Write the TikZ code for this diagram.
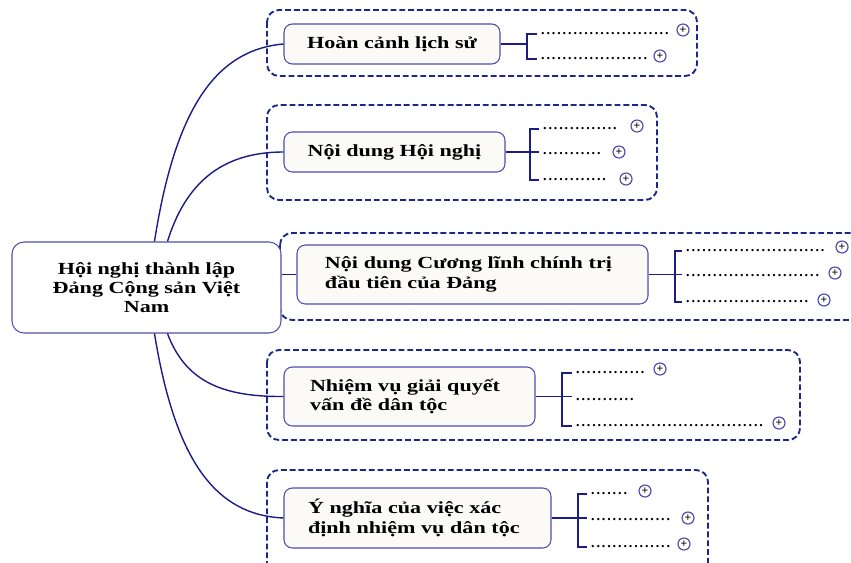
\documentclass[tikz,border=0pt]{standalone}
\usepackage{fontspec}
\setmainfont{Liberation Serif}
\newfontfamily\wideserif[FakeStretch=1.3]{Liberation Serif}
\usetikzlibrary{positioning}
\definecolor{navy}{RGB}{28,28,135}
\definecolor{boxblue}{RGB}{78,78,178}
\definecolor{dashblue}{RGB}{30,38,140}
\definecolor{paper}{RGB}{251,250,247}
\newcommand{\dotrow}[1]{\hbox to #1{\leaders\hbox to 4.6pt{\hss.\hss}\hfill}}

\begin{document}
\begin{tikzpicture}[x=0.03cm,y=-0.03cm]
	\tikzstyle{every node}=[font=\wideserif\bfseries\fontsize{14.5}{16.5}\selectfont]
	\tikzstyle{topic}=[draw=boxblue, line width=0.9pt, fill=paper, rounded corners=0.25cm]
	\tikzstyle{group}=[draw=dashblue, line width=1.6pt, dash pattern=on 5pt off 2.5pt, rounded corners=0.36cm]
	\tikzstyle{branch}=[draw=navy, line width=1.2pt]
	\tikzstyle{twig}=[draw=navy, line width=0.9pt]
	\tikzstyle{dots}=[anchor=west, inner sep=0pt, font=\rmfamily\bfseries\fontsize{12}{12}\selectfont]
	\tikzstyle{plusmark}=[circle, draw=boxblue, line width=1pt, fill=white, inner sep=0pt, minimum size=0.36cm, font=\rmfamily\bfseries\fontsize{10}{10}\selectfont]
	\useasboundingbox (0,0) rectangle (851,562);
	\clip (0,0) rectangle (851,562);
	% dashed groups
	\draw[group] (267,10) rectangle (697,76);
	\draw[group] (267,105) rectangle (657,200);
	\draw[group] (280,233) rectangle (870,320);
	\draw[group] (267,350) rectangle (800,440);
	\draw[group] (267,470) rectangle (708,580);
	% central topic
	\node[draw=boxblue, line width=0.9pt, fill=white, rounded corners=0.36cm, minimum width=8.07cm, minimum height=2.73cm, align=center] (hub) at (146.5,287.5) {Hội nghị thành lập\\Đảng Cộng sản Việt\\Nam};
	% main topics
	\node[topic, minimum width=6.48cm, minimum height=1.2cm] (b1) at (392,44) {Hoàn cảnh lịch sử};
	\node[topic, minimum width=6.63cm, minimum height=1.2cm] (b2) at (394.5,152) {Nội dung Hội nghị};
	\node[topic, minimum height=1.77cm, inner xsep=0.84cm, text width=8.85cm, align=left] (b3) at (472.5,274.5) {Nội dung Cương lĩnh chính trị\\đầu tiên của Đảng};
	\node[topic, minimum height=1.77cm, inner xsep=0.78cm, text width=5.97cm, align=left] (b4) at (409.5,396.5) {Nhiệm vụ giải quyết\\vấn đề dân tộc};
	\node[topic, minimum height=1.8cm, inner xsep=0.72cm, text width=6.57cm, align=left] (b5) at (417.5,518) {Ý nghĩa của việc xác\\định nhiệm vụ dân tộc};
	% branches
	\draw[branch] ([xshift=4.29cm]hub.north west) .. controls (175,110) and (215,50) .. (b1.west);
	\draw[branch] ([xshift=4.68cm]hub.north west) .. controls (185,185) and (220,152) .. (b2.west);
	\draw[branch] (hub.east |- b3.west) -- (b3.west);
	\draw[branch] ([xshift=4.68cm]hub.south west) .. controls (185,380) and (220,397) .. (b4.west);
	\draw[branch] ([xshift=4.29cm]hub.south west) .. controls (175,460) and (215,515) .. (b5.west);
	% sub items
	\coordinate (k1) at (527,0);
	\node[dots] (i11) at (540,34) {\dotrow{3.9cm}};
	\node[dots] (i12) at (540,59) {\dotrow{3.24cm}};
	\node[plusmark] (p11) at (683,30) {+};
	\node[plusmark] (p12) at (660,56) {+};
	\coordinate (k2) at (530,0);
	\node[dots] (i21) at (542,129) {\dotrow{2.4cm}};
	\node[dots] (i22) at (542,154) {\dotrow{1.89cm}};
	\node[dots] (i23) at (542,180) {\dotrow{2.1cm}};
	\node[plusmark] (p21) at (637,126) {+};
	\node[plusmark] (p22) at (619,152) {+};
	\node[plusmark] (p23) at (626,179) {+};
	\coordinate (k3) at (675,0);
	\node[dots] (i31) at (685,251) {\dotrow{4.35cm}};
	\node[dots] (i32) at (685,276) {\dotrow{4.11cm}};
	\node[dots] (i33) at (685,302) {\dotrow{3.81cm}};
	\node[plusmark] (p31) at (842,247) {+};
	\node[plusmark] (p32) at (835,273) {+};
	\node[plusmark] (p33) at (824,300) {+};
	\coordinate (k4) at (562,0);
	\node[dots] (i41) at (575,373) {\dotrow{2.19cm}};
	\node[dots] (i42) at (575,400) {\dotrow{1.89cm}};
	\node[dots] (i43) at (575,426) {\dotrow{5.79cm}};
	\node[plusmark] (p41) at (660,369) {+};
	\node[plusmark] (p43) at (779,423) {+};
	\coordinate (k5) at (578,0);
	\node[dots] (i51) at (590,494) {\dotrow{1.26cm}};
	\node[dots] (i52) at (590,520) {\dotrow{2.46cm}};
	\node[dots] (i53) at (590,547) {\dotrow{2.55cm}};
	\node[plusmark] (p51) at (645,491) {+};
	\node[plusmark] (p52) at (688,518) {+};
	\node[plusmark] (p53) at (684,544) {+};
	% brackets
	\draw[twig] (b1.east) -- (b1.east -| k1);
	\draw[twig] ([xshift=-0.1cm]i11.west) -- (i11.west -| k1) -- (i12.west -| k1) -- ([xshift=-0.1cm]i12.west);
	\draw[twig] (b2.east) -- ([xshift=-0.1cm]b2.east -| i22.west);
	\draw[twig] ([xshift=-0.1cm]i21.west) -- (i21.west -| k2) -- (i23.west -| k2) -- ([xshift=-0.1cm]i23.west);
	\draw[twig] (b3.east) -- ([xshift=-0.1cm]b3.east -| i32.west);
	\draw[twig] ([xshift=-0.1cm]i31.west) -- (i31.west -| k3) -- (i33.west -| k3) -- ([xshift=-0.1cm]i33.west);
	\draw[twig] (b4.east) -- ([xshift=-0.1cm]b4.east -| i42.west);
	\draw[twig] ([xshift=-0.1cm]i41.west) -- (i41.west -| k4) -- (i43.west -| k4) -- ([xshift=-0.1cm]i43.west);
	\draw[twig] (b5.east) -- ([xshift=-0.1cm]b5.east -| i52.west);
	\draw[twig] ([xshift=-0.1cm]i51.west) -- (i51.west -| k5) -- (i53.west -| k5) -- ([xshift=-0.1cm]i53.west);
\end{tikzpicture}
\end{document}
